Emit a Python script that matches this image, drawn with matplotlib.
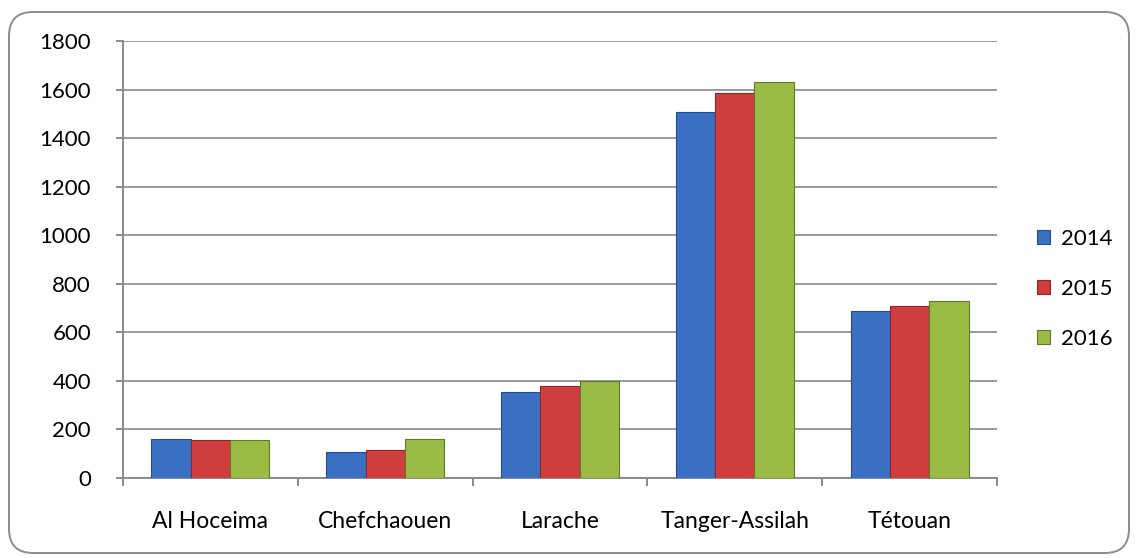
import matplotlib
matplotlib.use("Agg")
import matplotlib.pyplot as plt
import numpy as np
from matplotlib.patches import FancyBboxPatch
from matplotlib.transforms import IdentityTransform

categories = ["Al Hoceima", "Chefchaouen", "Larache", "Tanger-Assilah", "Tétouan"]
years = ["2014", "2015", "2016"]
v2014 = [161, 107, 354, 1508, 688]
v2015 = [156, 117, 379, 1586, 709]
v2016 = [156, 161, 400, 1632, 729]
yticks = [0, 200, 400, 600, 800, 1000, 1200, 1400, 1600, 1800]

colors = ["#3B6FC2", "#CF3E3E", "#9ABB46"]
edges = ["#244C8C", "#8E2626", "#5F7A26"]

plt.rcParams['font.family'] = ['Lato', 'DejaVu Sans']
W, H = 1137, 558
fig = plt.figure(figsize=(W/100, H/100), dpi=100)
ax = fig.add_axes([123/W, 1-478/H, (997-123)/W, (478-41)/H])

x = np.arange(len(categories))
bw = 0.225
series = [v2014, v2015, v2016]
for i, vals in enumerate(series):
    ax.bar(x + (i-1)*bw, vals, width=bw, color=colors[i], edgecolor=edges[i],
           linewidth=0.8, label=years[i], zorder=3)

ax.set_xlim(-0.5, len(categories)-0.5)
ax.set_ylim(0, 1800)
ax.set_yticks(yticks)
ax.set_yticklabels([str(t) for t in yticks], fontsize=16)
ax.yaxis.grid(True, color="#9a9a9a", linewidth=1.4, zorder=0)
ax.set_axisbelow(True)
ax.set_xticks(x)
ax.set_xticklabels(categories, fontsize=16.5)
ax.set_xticks(np.arange(-0.5, len(categories), 1), minor=True)
ax.tick_params(axis='x', which='major', length=0, pad=24)
ax.tick_params(axis='x', which='minor', length=6, color="#8a8a8a", width=1.4, direction='out')
ax.tick_params(axis='y', length=5, color="#8a8a8a", width=1.4, pad=18)
for s in ["top", "right"]:
    ax.spines[s].set_visible(False)
for s in ["left", "bottom"]:
    ax.spines[s].set_color("#8a8a8a")
    ax.spines[s].set_linewidth(1.4)

leg = fig.legend(loc="center left", bbox_to_anchor=(1017/W, 1-289/H), frameon=False,
                 fontsize=16, handlelength=0.6, handleheight=0.6, labelspacing=1.35,
                 handletextpad=0.5)

border = FancyBboxPatch((9, 5), W-17, H-17,
                        boxstyle="round,pad=0,rounding_size=24",
                        transform=IdentityTransform(), facecolor="none",
                        edgecolor="#8c8c8c", linewidth=1.4)
fig.patches.append(border)

fig.savefig("out.png", dpi=100)
